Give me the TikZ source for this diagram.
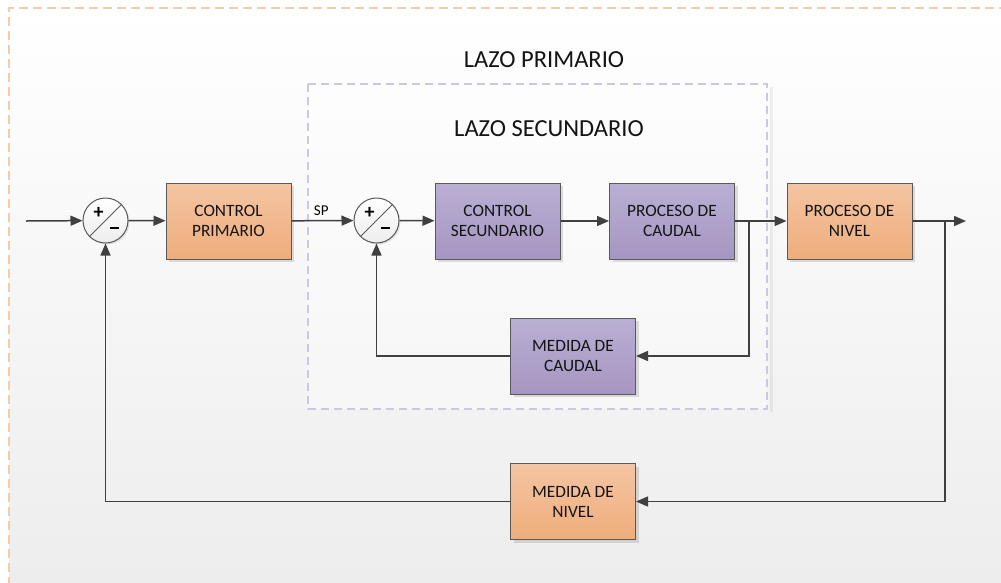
\documentclass[tikz,border=0pt]{standalone}
\usepackage{fontspec}
\setmainfont{Carlito}
\usetikzlibrary{arrows.meta,shadows,calc}

\definecolor{oTop}{HTML}{F4C5A2}
\definecolor{oBot}{HTML}{EEAD7C}
\definecolor{pTop}{HTML}{BAAFD3}
\definecolor{pBot}{HTML}{A696C2}
\definecolor{edgegray}{HTML}{595959}
\definecolor{linegray}{HTML}{404040}
\definecolor{frameO}{HTML}{F7CBA8}
\definecolor{frameP}{HTML}{CDC7DF}
\definecolor{bgBot}{HTML}{EDEDED}

\tikzset{
  blk/.style={draw=edgegray, line width=1pt, minimum width=125pt, minimum height=76pt,
    align=center, inner sep=0pt, font=\fontsize{17.3}{20}\selectfont, text=black!92,
    drop shadow={shadow xshift=3pt, shadow yshift=-3pt, fill=black, opacity=0.12}},
  ob/.style={blk, top color=oTop, bottom color=oBot},
  pb/.style={blk, top color=pTop, bottom color=pBot},
  sumnode/.style={circle, draw=edgegray, line width=1pt, minimum size=45pt, inner sep=0pt,
    top color=white, bottom color=gray!14,
    drop shadow={shadow xshift=1.5pt, shadow yshift=-1.5pt, fill=black, opacity=0.10}},
  ln/.style={draw=linegray, line width=1.5pt},
  arr/.style={ln, -{Triangle[length=12pt,width=10pt]}},
  title/.style={font=\fontsize{24.5}{28}\selectfont, text=black!92},
  sgn/.style={font=\fontsize{20}{20}\selectfont\bfseries, inner sep=0pt}
}

\begin{document}
\begin{tikzpicture}[x=1pt,y=-1pt]
  % page and frames
  \useasboundingbox (0,0) rectangle (1001,582);
  \fill[white] (0,0) rectangle (1001,582);
  \shade[top color=white, bottom color=bgBot] (9,8) rectangle (1001,582);
  \draw[frameO, line width=1.5pt, dash pattern=on 9pt off 5pt] (9,600) -- (9,8) -- (1010,8);
  \fill[black, opacity=0.06] (770,87) rectangle (773,412);
  \fill[white, opacity=0.35] (308,84) rectangle (767,409);
  \draw[frameP, line width=1.5pt, dash pattern=on 8pt off 5pt] (308,84) rectangle (767,409);

  \node[title] (lp) at (544,60) {LAZO PRIMARIO};
  \node[title] (ls) at (549,129) {LAZO SECUNDARIO};

  % summing junctions
  \node[sumnode] (s1) at (105.5,220.5) {};
  \node[sumnode] (s2) at (376.5,220.5) {};
  \foreach \s in {s1,s2}{
    \draw[edgegray, line width=1pt] (\s.225) -- (\s.45);
    \node[sgn] at ($(\s)+(-7,-8)$) {+};
    \fill[black] ($(\s)+(4,6.6)$) rectangle ($(\s)+(13,8.8)$);
  }

  % blocks
  \node[ob] (cp) at (228.5,221) {CONTROL\\PRIMARIO};
  \node[pb] (cs) at (497.5,221) {CONTROL\\SECUNDARIO};
  \node[pb] (pc) at (672,221) {PROCESO DE\\CAUDAL};
  \node[ob] (pn) at (849.5,221) {PROCESO DE\\NIVEL};
  \node[pb] (mc) at (573,356) {MEDIDA DE\\CAUDAL};
  \node[ob] (mn) at (573,501.5) {MEDIDA DE\\NIVEL};

  % signal paths
  \coordinate (in) at (26,221);
  \coordinate (b1) at (749,221);
  \coordinate (b2) at (945,221);
  \coordinate (out) at (966,221);

  \draw[arr] (in) -- (s1);
  \draw[arr] (s1) -- (cp);
  \draw[arr] (cp) -- node[pos=0.48, above=1pt, font=\fontsize{15}{15}\selectfont] {SP} (s2);
  \draw[arr] (s2) -- (cs);
  \draw[arr] (cs) -- (pc);
  \draw[arr] (pc) -- (pn);
  \draw[arr] (pn) -- (out);
  \draw[arr] (b1) |- (mc.east);
  \draw[arr] (mc.west) -| (s2.south);
  \draw[arr] (b2) |- (mn.east);
  \draw[arr] (mn.west) -| (s1.south);
\end{tikzpicture}
\end{document}
